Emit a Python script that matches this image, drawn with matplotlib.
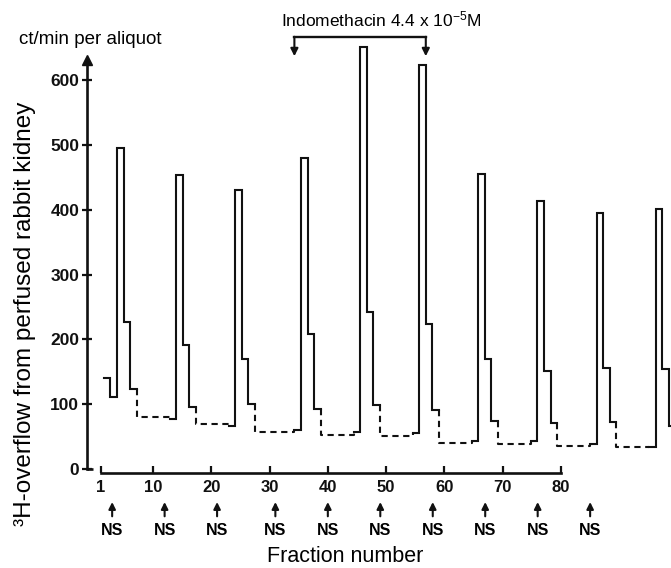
import matplotlib
matplotlib.use("Agg")
import matplotlib.pyplot as plt
import numpy as np

plt.rcParams['font.family'] = ['Liberation Sans', 'DejaVu Sans']
plt.rcParams['mathtext.fontset'] = 'custom'
plt.rcParams['mathtext.rm'] = 'Liberation Sans'
plt.rcParams['mathtext.it'] = 'Liberation Sans'
plt.rcParams['mathtext.default'] = 'rm'

# ---------------- data ----------------
ns_fractions = [3, 12, 21, 31, 40, 49, 58, 67, 76, 85]      # nerve stimulation (NS)
first_value = 140                                           # fraction 1
pre_peak = [111, 77, 67, 60, 57, 55, 43, 43, 38.5, 34]      # fraction before each NS
peak = [495, 454, 430, 480, 652, 623, 456, 413, 395, 401]   # fraction of NS
after1 = [227, 192, 169, 209, 243, 223, 170, 152, 156, 155]
after2 = [123, 95, 101, 92, 98, 91, 74, 71, 73, 66]
baseline = [80, 70, 57, 52, 51, 39.5, 38.5, 35, 34]         # interpolated (dashed)
indo_start, indo_end = 30, 50
xtick_values = [1, 10, 20, 30, 40, 50, 60, 70, 80]
ytick_values = [0, 100, 200, 300, 400, 500, 600]

# ---------------- figure ----------------
W, H = 671, 568
fig = plt.figure(figsize=(W / 100, H / 100), dpi=100)
px_per_unit = 0.648
y0_px = 469
ytop = 700
ax_top_px = y0_px - ytop * px_per_unit
ax = fig.add_axes([87 / W, 1 - y0_px / H, 1 - 87 / W, (y0_px - ax_top_px) / H])

# axis (tick) scale
ax.set_xlim((87 - 100.5) / 5.829 + 1, (671 - 100.5) / 5.829 + 1)
ax.set_ylim(0, ytop)

# trace axis (the trace is drawn on a slightly different scale in the original)
ax2 = ax.twiny()
ax2.set_xlim(3 - 30 / 6.57, 3 + 554 / 6.57)
ax2.set_ylim(0, ytop)
for s in ax2.spines.values():
    s.set_visible(False)
ax2.set_xticks([])

lw = 1.5
black = '#111111'


def solid_segment(xs_start, vals):
    xs = list(range(xs_start, xs_start + len(vals) + 1))
    ys = list(vals) + [vals[-1]]
    ax2.step(xs, ys, where='post', color=black, lw=lw, solid_joinstyle='miter')


solid_segment(1, [first_value, pre_peak[0], peak[0], after1[0], after2[0]])
for i in range(1, len(ns_fractions)):
    n = ns_fractions[i]
    solid_segment(n - 1, [pre_peak[i], peak[i], after1[i], after2[i]])
for i in range(len(baseline)):
    a = ns_fractions[i] + 3
    b = ns_fractions[i + 1] - 1
    ax2.plot([a, a, b, b], [after2[i], baseline[i], baseline[i], pre_peak[i + 1]],
             color=black, lw=lw, ls=(0, (3, 2.2)))

# spines
for s in ['top', 'right']:
    ax.spines[s].set_visible(False)
ax.spines['left'].set_bounds(0, 631)
ax.spines['left'].set_linewidth(1.9)
ax.spines['left'].set_color(black)
ax.spines['bottom'].set_position(('outward', 3))
ax.spines['bottom'].set_bounds(1, 80)
ax.spines['bottom'].set_linewidth(1.9)
ax.spines['bottom'].set_color(black)

ax.set_yticks(ytick_values)
ax.set_yticklabels([str(v) for v in ytick_values], fontsize=12.5, fontweight='bold')
ax.tick_params(axis='y', direction='inout', length=7, width=1.6, pad=2, colors=black)
ax.set_xticks(xtick_values)
ax.set_xticklabels([str(v) for v in xtick_values], fontsize=12, fontweight='bold')
ax.tick_params(axis='x', direction='in', length=5, width=1.6, pad=5, colors=black)

# y-axis arrow head and foot
ax.plot([0], [631], marker='^', ms=7, color=black, transform=ax.get_yaxis_transform(),
        clip_on=False)
ax.plot([0, 0.01], [0, 0], color=black, lw=1.9, transform=ax.get_yaxis_transform(),
        clip_on=False, solid_capstyle='butt')

# NS arrows
for n in ns_fractions:
    ax.annotate('', xy=(n, -51), xytext=(n, -73), annotation_clip=False,
                arrowprops=dict(arrowstyle='-|>', color=black, lw=1.5,
                                mutation_scale=10, shrinkA=0, shrinkB=0))
    ax.text(n, -95, 'NS', ha='center', va='center', fontsize=11.5, fontweight='bold',
            clip_on=False)

fig.text(345 / W, 1 - 557 / H, 'Fraction number', ha='center', va='center', fontsize=15.5)

# indomethacin bracket
yb = 667
for xx in (indo_start, indo_end):
    ax2.annotate('', xy=(xx, 637), xytext=(xx, yb), annotation_clip=False,
                 arrowprops=dict(arrowstyle='-|>', color=black, lw=1.5,
                                 mutation_scale=11, shrinkA=0, shrinkB=0))
ax2.plot([indo_start, indo_end], [yb, yb], color=black, lw=1.7, clip_on=False)
fig.text(381 / W, 1 - 19 / H, r'Indomethacin 4.4 x 10$^{-5}$M',
         ha='center', va='center', fontsize=12.5)

# labels
fig.text(90 / W, 1 - 40 / H, 'ct/min per aliquot', ha='center', va='center', fontsize=13.5)
fig.text(25 / W, 1 - 314 / H, '³H-overflow from perfused rabbit kidney', rotation=90,
         ha='center', va='center', fontsize=17.5)

fig.savefig('out.png', dpi=100)
